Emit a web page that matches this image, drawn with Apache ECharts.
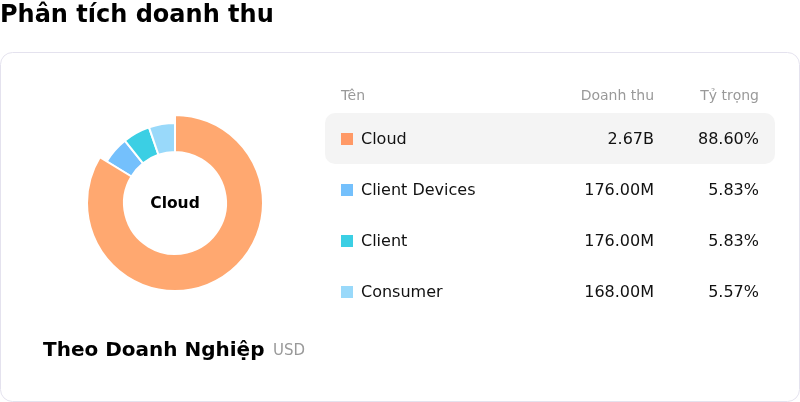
<!DOCTYPE html>
<html>
<head>
<meta charset="utf-8">
<script src="https://cdn.jsdelivr.net/npm/echarts@6/dist/echarts.min.js"></script>
<style>
html,body{margin:0;padding:0;background:#fff;}
#main{width:800px;height:402px;}
</style>
</head>
<body>
<div id="main"></div>
<script>
var categories = ['Cloud', 'Client Devices', 'Client', 'Consumer'];
var revenueMillions = [2670, 176, 176, 168];
var revenueLabels = ['2.67B', '176.00M', '176.00M', '168.00M'];
var shareLabels = ['88.60%', '5.83%', '5.83%', '5.57%'];
var colors = ['#FF9966', '#74C0FC', '#3BCFE4', '#99D9FA'];
var headers = ['Tên', 'Doanh thu', 'Tỷ trọng'];
var titleText = 'Phân tích doanh thu';
var footerText = 'Theo Doanh Nghiệp';
var unitText = 'USD';

var FONT = 'DejaVu Sans';
var chart = echarts.init(document.getElementById('main'), null, {renderer: 'canvas'});

function txt(x, y, text, size, weight, fill, align, z){
  return {type:'text', x:x, y:y, z: z || 10, style:{text:text, fontFamily:FONT, fontSize:size, fontWeight:weight,
    fill:fill, align:align || 'left', verticalAlign:'middle'}};
}

var graphics = [];
graphics.push({type:'rect', shape:{x:0.5,y:52.5,width:799,height:349,r:12},
  style:{fill:'#fff', stroke:'#E4E2EE', lineWidth:1}, z:-10});
graphics.push(txt(0, 16, titleText, 24, 'bold', '#000'));
graphics.push(txt(341, 96, headers[0], 14, 'normal', '#999'));
graphics.push(txt(654, 96, headers[1], 14, 'normal', '#999', 'right'));
graphics.push(txt(759, 96, headers[2], 14, 'normal', '#999', 'right'));
graphics.push({type:'rect', shape:{x:325,y:113,width:450,height:51,r:10}, style:{fill:'#F4F4F4'}, z:-5});
categories.forEach(function(name, i){
  var yc = 139 + i*51;
  graphics.push({type:'rect', shape:{x:341,y:yc-6,width:12,height:12}, style:{fill:colors[i]}});
  graphics.push(txt(361, yc+1, name, 16, 'normal', '#111'));
  graphics.push(txt(654, yc+1, revenueLabels[i], 16, 'normal', '#111', 'right'));
  graphics.push(txt(759, yc+1, shareLabels[i], 16, 'normal', '#111', 'right'));
});
graphics.push(txt(175, 203.5, categories[0], 15.5, 'bold', '#000', 'center', 100));
graphics.push(txt(43, 351, footerText, 20, 'bold', '#000'));
graphics.push(txt(273, 351, unitText, 15, 'normal', '#999'));

chart.setOption({
  animation: false,
  color: colors,
  graphic: graphics,
  series: [{
    type: 'pie',
    center: [175, 203],
    radius: [51, 80],
    startAngle: 90,
    clockwise: true,
    label: {show: false},
    labelLine: {show: false},
    itemStyle: {borderColor: '#fff', borderWidth: 2},
    emphasis: {scale: true, scaleSize: 8},
    data: categories.map(function(n, i){ return {name: n, value: revenueMillions[i]}; })
  }]
});
chart.dispatchAction({type:'highlight', seriesIndex:0, dataIndex:0});
</script>
</body>
</html>
